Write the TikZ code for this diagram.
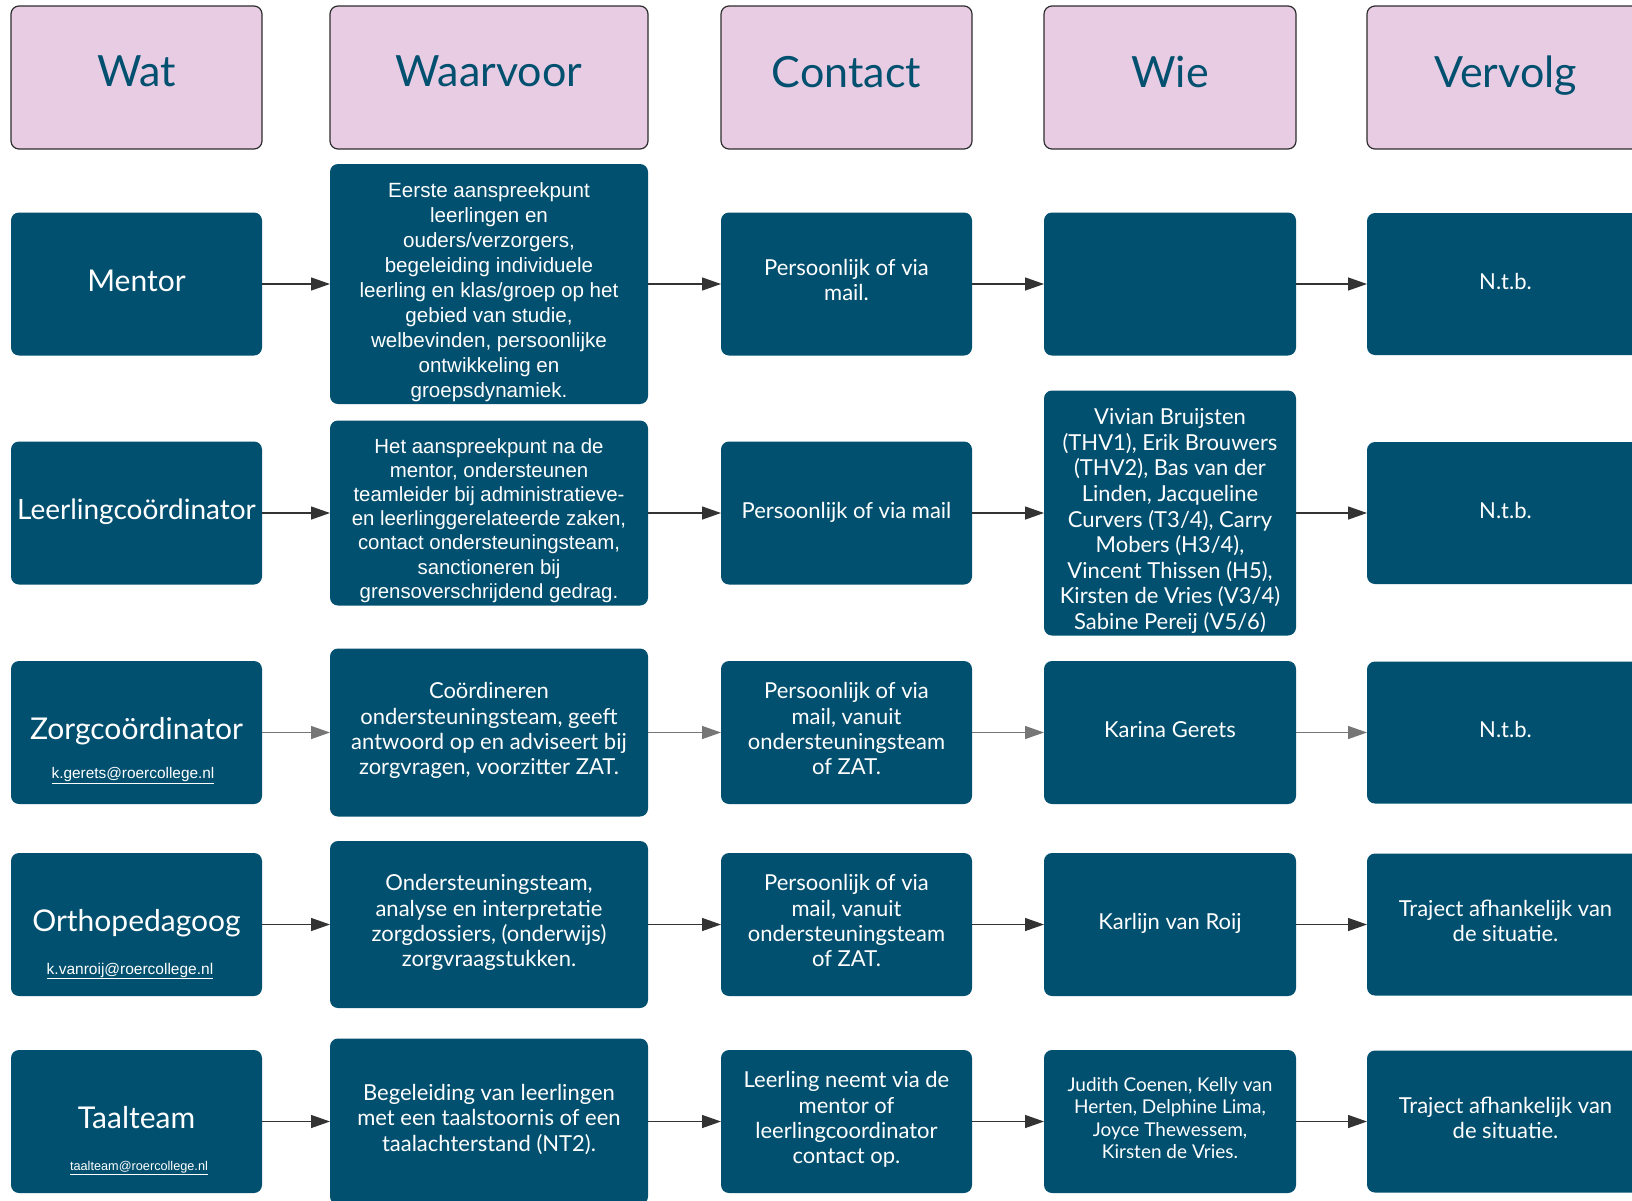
\documentclass[tikz,border=0pt]{standalone}
\usepackage{fontspec}
\setmainfont{Lato}
\newfontfamily\arialfont{Liberation Sans}
\usetikzlibrary{arrows.meta}
\definecolor{boxblue}{RGB}{2,80,111}
\definecolor{hdrpink}{RGB}{232,204,227}
\definecolor{hdrline}{RGB}{45,45,45}
\definecolor{arrdark}{RGB}{51,51,51}
\definecolor{arrgray}{RGB}{118,118,118}
\begin{document}
\begin{tikzpicture}[x=1pt,y=-1pt,
  base/.style={rounded corners=8pt, inner sep=0pt, outer sep=0pt, align=center,
    execute at begin node=\strut, execute at end node=\strut},
  hdr/.style={base, fill=hdrpink, draw=hdrline, line width=1.2pt, text=boxblue,
    font=\fontsize{43}{40}\selectfont, minimum height=143pt},
  box/.style={base, fill=boxblue, text=white, font=\fontsize{22}{25.3}\selectfont},
  boxtext/.style={base, text=white, font=\fontsize{22}{25.3}\selectfont},
  wat/.style={box, font=\fontsize{30}{36}\selectfont, minimum width=251pt, minimum height=143pt},
  arialtxt/.style={font=\arialfont\fontsize{20.6}{25}\selectfont},
  smalltxt/.style={font=\fontsize{19}{22.4}\selectfont},
  email/.style={inner sep=0pt, text=white},
  colA/.style={minimum width=318pt},
  colB/.style={minimum width=251pt},
  colC/.style={minimum width=252pt},
  colD/.style={minimum width=277pt},
  arr/.style={draw=arrdark, line width=1.3pt, -{Triangle[length=19pt,width=13pt]}},
  arrg/.style={arr, draw=arrgray}
]
\useasboundingbox (0,0) rectangle (1632,1200);
\clip (0,0) rectangle (1632,1200);

% headers
\node[hdr, minimum width=251pt] (h1) at (136.5,77.5) {Wat};
\node[hdr, minimum width=318pt] (h2) at (489,77.5) {Waarvoor};
\node[hdr, minimum width=251pt] (h3) at (846.5,77.5) {Contact};
\node[hdr, minimum width=252pt] (h4) at (1170,77.5) {Wie};
\node[hdr, minimum width=277pt] (h5) at (1505.5,77.5) {Vervolg};

% row 1
\node[wat] (a1) at (136.5,284) {Mentor};
\node[box, colA, minimum height=240pt] (b1) at (489,284) {};
\node[boxtext, arialtxt] (b1t) at (489,294) {Eerste aanspreekpunt\\leerlingen en\\ouders/verzorgers,\\begeleiding individuele\\leerling en klas/groep op het\\gebied van studie,\\welbevinden, persoonlijke\\ontwikkeling en\\groepsdynamiek.};
\node[box, colB, minimum height=143pt] (c1) at (846.5,284) {Persoonlijk of via\\mail.};
\node[box, colC, minimum height=143pt] (d1) at (1170,284) {};
\node[box, colD, minimum height=142pt] (e1) at (1505.5,284) {N.t.b.};

% row 2
\node[wat, font=\fontsize{28}{34}\selectfont] (a2) at (136.5,513) {Leerlingcoördinator};
\node[box, colA, minimum height=185pt] (b2) at (489,513) {};
\node[boxtext, font=\arialfont\fontsize{20.4}{24.2}\selectfont] (b2t) at (489,522) {Het aanspreekpunt na de\\mentor, ondersteunen\\teamleider bij administratieve-\\en leerlinggerelateerde zaken,\\contact ondersteuningsteam,\\sanctioneren bij\\grensoverschrijdend gedrag.};
\node[box, colB, minimum height=143pt] (c2) at (846.5,513) {Persoonlijk of via mail};
\node[box, colC, minimum height=245pt] (d2) at (1170,513) {};
\node[boxtext, font=\fontsize{22}{25.6}\selectfont] (d2t) at (1170,523) {Vivian Bruijsten\\(THV1), Erik Brouwers\\(THV2), Bas van der\\Linden, Jacqueline\\Curvers (T3/4), Carry\\Mobers (H3/4),\\Vincent Thissen (H5),\\Kirsten de Vries (V3/4)\\Sabine Pereij (V5/6)};
\node[box, colD, minimum height=142pt] (e2) at (1505.5,513) {N.t.b.};

% row 3
\node[wat] (a3) at (136.5,732.5) {Zorgcoördinator};
\node[email, font=\arialfont\fontsize{15.4}{18}\selectfont] (m3) at (133,776) {\underline{k.gerets@roercollege.nl}};
\node[box, colA, minimum height=168pt] (b3) at (489,732.5) {Coördineren\\ondersteuningsteam, geeft\\antwoord op en adviseert bij\\zorgvragen, voorzitter ZAT.};
\node[box, colB, minimum height=143pt] (c3) at (846.5,732.5) {Persoonlijk of via\\mail, vanuit\\ondersteuningsteam\\of ZAT.};
\node[box, colC, minimum height=143pt] (d3) at (1170,732.5) {Karina Gerets};
\node[box, colD, minimum height=142pt] (e3) at (1505.5,732.5) {N.t.b.};

% row 4
\node[wat] (a4) at (136.5,924.5) {Orthopedagoog};
\node[email, font=\arialfont\fontsize{15.5}{18}\selectfont] (m4) at (130,971) {\underline{k.vanroij@roercollege.nl}};
\node[box, colA, minimum height=167pt] (b4) at (489,924.5) {Ondersteuningsteam,\\analyse en interpretatie\\zorgdossiers, (onderwijs)\\zorgvraagstukken.};
\node[box, colB, minimum height=143pt] (c4) at (846.5,924.5) {Persoonlijk of via\\mail, vanuit\\ondersteuningsteam\\of ZAT.};
\node[box, colC, minimum height=143pt] (d4) at (1170,924.5) {Karlijn van Roij};
\node[box, colD, minimum height=142pt] (e4) at (1505.5,924.5) {Traject afhankelijk van\\de situatie.};

% row 5
\node[wat] (a5) at (136.5,1121.5) {Taalteam};
\node[email, font=\arialfont\fontsize{12.7}{15}\selectfont] (m5) at (139,1168) {\underline{taalteam@roercollege.nl}};
\node[box, colA, minimum height=166pt] (b5) at (489,1121.5) {Begeleiding van leerlingen\\met een taalstoornis of een\\taalachterstand (NT2).};
\node[box, colB, minimum height=143pt] (c5) at (846.5,1121.5) {Leerling neemt via de\\mentor of\\leerlingcoordinator\\contact op.};
\node[box, colC, smalltxt, minimum height=143pt] (d5) at (1170,1121.5) {Judith Coenen, Kelly van\\Herten, Delphine Lima,\\Joyce Thewessem,\\Kirsten de Vries.};
\node[box, colD, minimum height=142pt] (e5) at (1505.5,1121.5) {Traject afhankelijk van\\de situatie.};

% connectors
\foreach \r in {1,2,4,5}{
  \draw[arr] (a\r.east) -- (b\r.west);
  \draw[arr] (b\r.east) -- (c\r.west);
  \draw[arr] (c\r.east) -- (d\r.west);
  \draw[arr] (d\r.east) -- (e\r.west);
}
\draw[arrg] (a3.east) -- (b3.west);
\draw[arrg] (b3.east) -- (c3.west);
\draw[arrg] (c3.east) -- (d3.west);
\draw[arrg] (d3.east) -- (e3.west);
\end{tikzpicture}
\end{document}
